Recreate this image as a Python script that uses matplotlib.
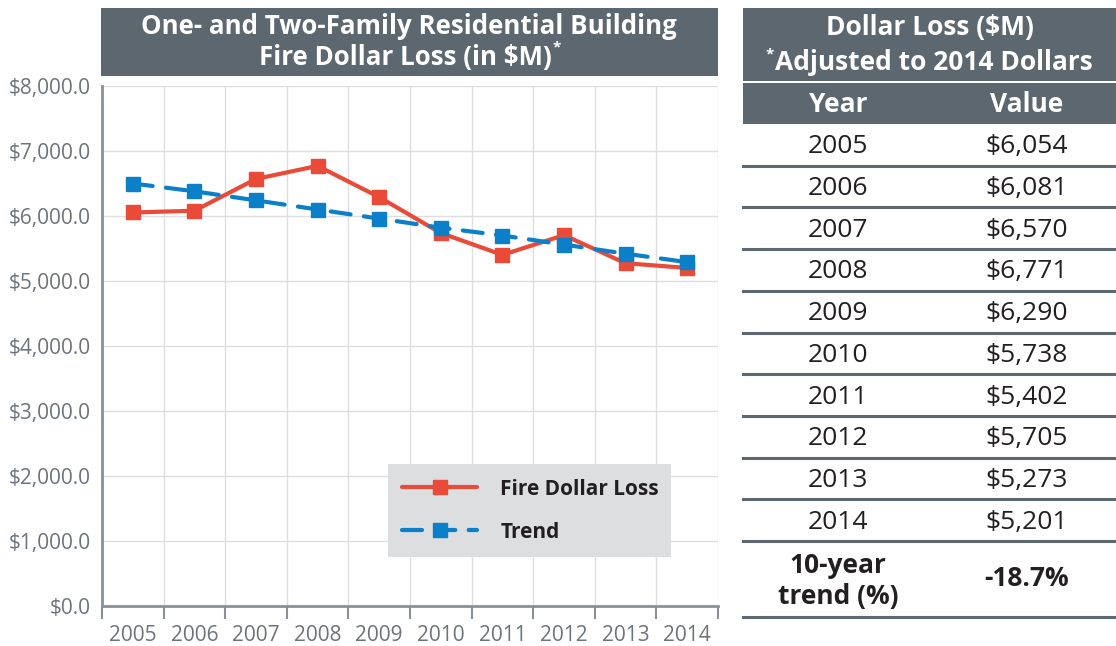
import matplotlib
matplotlib.use("Agg")
import matplotlib.pyplot as plt
from matplotlib.patches import Rectangle
from matplotlib.lines import Line2D

YEARS = [2005, 2006, 2007, 2008, 2009, 2010, 2011, 2012, 2013, 2014]
LOSS = [6054, 6081, 6570, 6771, 6290, 5738, 5402, 5705, 5273, 5201]
TREND = [6500, 6380, 6240, 6100, 5960, 5820, 5700, 5560, 5420, 5290]
Y_TICKS = [0, 1000, 2000, 3000, 4000, 5000, 6000, 7000, 8000]
TREND_PCT = "-18.7%"

RED = "#ea4a38"
BLUE = "#0b80c8"
SLATE = "#5d6770"
GREY_TXT = "#6b747e"
W, H = 1116, 646
TFS = 18.6   # title size
BFS = 19     # table size

plt.rcParams['font.family'] = ['Open Sans', 'DejaVu Sans']
fig = plt.figure(figsize=(W / 100, H / 100), dpi=100)

# overlay in pixel coords for boxes and table
ov = fig.add_axes([0, 0, 1, 1])
ov.set_xlim(0, W)
ov.set_ylim(H, 0)
ov.axis('off')

# chart
ax = fig.add_axes([102 / W, 1 - 606 / H, 616 / W, 520 / H])
x = list(range(len(YEARS)))
ax.plot(x, LOSS, color=RED, lw=3, marker='s', ms=10, zorder=3,
        solid_capstyle='round', label='Fire Dollar Loss')
ax.plot(x, TREND, color=BLUE, lw=3, marker='s', ms=10, zorder=4,
        linestyle=(0, (4.8, 3.2)), dash_capstyle='round', label='Trend')
ax.set_xlim(-0.5, len(YEARS) - 0.5)
ax.set_ylim(0, 8000)
ax.set_yticks(Y_TICKS)
ax.set_yticklabels([f"\\${v:,.1f}" for v in Y_TICKS])
ax.set_xticks(x)
ax.set_xticklabels([str(y) for y in YEARS])
ax.set_xticks([i - 0.5 for i in range(len(YEARS) + 1)], minor=True)
ax.tick_params(axis='x', which='major', length=0, pad=14, labelsize=15,
               labelcolor=GREY_TXT)
ax.tick_params(axis='x', which='minor', length=9, width=1.5, color='#8a9098')
ax.tick_params(axis='y', length=0, pad=8, labelsize=15, labelcolor=GREY_TXT)
for lab in ax.get_xticklabels() + ax.get_yticklabels():
    lab.set_family(['Liberation Sans Narrow', 'Open Sans', 'DejaVu Sans'])
ax.grid(axis='y', which='major', color='#dedede', lw=1)
ax.grid(axis='x', which='minor', color='#dedede', lw=1)
ax.set_axisbelow(True)
for s in ['top', 'right']:
    ax.spines[s].set_visible(False)
for s in ['left', 'bottom']:
    ax.spines[s].set_color('#8a9098')
    ax.spines[s].set_linewidth(2)

leg = ax.legend(loc='lower left', bbox_to_anchor=(0.464, 0.094, 0.46, 0.185),
                mode='expand', frameon=True, fancybox=False, borderpad=0.7,
                labelspacing=1.05, handlelength=3.6, handletextpad=1.1,
                borderaxespad=0,
                prop={'family': 'Open Sans', 'weight': 'bold', 'size': 15})
leg.get_frame().set_facecolor('#dcdee0')
leg.get_frame().set_edgecolor('none')
leg.get_frame().set_alpha(1)
for t in leg.get_texts():
    t.set_color('#231f20')

# title box
ov.add_patch(Rectangle((101, 8), 617, 68, color=SLATE, lw=0))
ov.text(409, 26, "One- and Two-Family Residential Building", ha='center',
        va='center', color='white', fontsize=TFS, fontweight='bold')
t2 = ov.text(405, 57, "Fire Dollar Loss (in \\$M)", ha='center',
             va='center', color='white', fontsize=TFS, fontweight='bold')

renderer = fig.canvas.get_renderer()
bb = t2.get_window_extent(renderer)
ov.text(bb.x1 + 1, 47, "*", ha='left', va='center', color='white',
        fontsize=11, fontweight='bold')

# table
TX0, TX1 = 743, W
COL_YEAR, COL_VAL = 838, 1027
ov.add_patch(Rectangle((TX0, 8), TX1 - TX0, 73, color=SLATE, lw=0))
ov.add_patch(Rectangle((TX0, 83), TX1 - TX0, 41, color=SLATE, lw=0))
ov.text((TX0 + TX1) / 2, 27, "Dollar Loss (\\$M)", ha='center', va='center',
        color='white', fontsize=BFS, fontweight='bold')
t3 = ov.text((TX0 + TX1) / 2 + 4, 62, "Adjusted to 2014 Dollars", ha='center',
             va='center', color='white', fontsize=BFS, fontweight='bold')
bb3 = t3.get_window_extent(renderer)
ov.text(bb3.x0 - 1, 54, "*", ha='right', va='center', color='white',
        fontsize=11, fontweight='bold')
ov.text(COL_YEAR, 104, "Year", ha='center', va='center', color='white',
        fontsize=BFS, fontweight='bold')
ov.text(COL_VAL, 104, "Value", ha='center', va='center', color='white',
        fontsize=BFS, fontweight='bold')

row_h = 41.7
y0 = 124
for i, (yr, v) in enumerate(zip(YEARS, LOSS)):
    yc = y0 + row_h * (i + 0.5) + 2
    ov.text(COL_YEAR, yc, str(yr), ha='center', va='center', color='#231f20',
            fontsize=BFS)
    ov.text(COL_VAL, yc, f"\\${v:,}", ha='center', va='center',
            color='#231f20', fontsize=BFS)
    ov.add_line(Line2D([TX0, TX1], [y0 + row_h * (i + 1)] * 2, color=SLATE,
                       lw=2.2))
yb = y0 + row_h * len(YEARS)
ov.text(COL_YEAR, (yb + 617) / 2 + 2, "10-year\ntrend (%)", ha='center',
        va='center', color='#231f20', fontsize=BFS, fontweight='bold',
        linespacing=1.2)
ov.text(COL_VAL, (yb + 617) / 2, TREND_PCT, ha='center', va='center',
        color='#231f20', fontsize=BFS, fontweight='bold')
ov.add_line(Line2D([TX0, TX1], [617, 617], color=SLATE, lw=2.2))

fig.savefig("out.png", dpi=100)
